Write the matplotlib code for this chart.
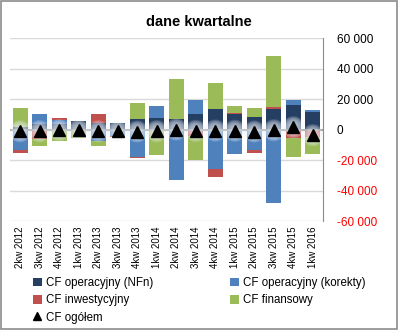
import matplotlib
matplotlib.use("Agg")
import matplotlib.pyplot as plt
import numpy as np

plt.rcParams["font.family"] = ["Liberation Sans", "DejaVu Sans"]

quarters = ["2kw 2012", "3kw 2012", "4kw 2012", "1kw 2013", "2kw 2013", "3kw 2013",
            "4kw 2013", "1kw 2014", "2kw 2014", "3kw 2014", "4kw 2014", "1kw 2015",
            "2kw 2015", "3kw 2015", "4kw 2015", "1kw 2016"]

cf_nfn = [1600, 3800, 3800, 5300, 4400, 4000, 6700, 7300, 6700, 10000, 13300, 10000,
          8000, 13300, 16000, 11300]
cf_korekty = [-13300, 6200, 2700, 0, -7300, -4000, -18000, 8000, -32900, 9300, -25600,
              -16200, -13300, -48400, 3300, 1300]
cf_inwest = [-2000, -6000, 900, 0, 5600, -1000, -700, 0, 0, -4000, -5300, 700,
             -2000, 1300, -5800, -4700]
cf_finans = [12500, -5100, -7800, -5700, -3800, 0, 10700, -16400, 26200, -16200, 16900,
             4700, 6000, 33300, -12000, -11600]
cf_total = [-1200, -1100, -400, -400, -1100, -1000, -1300, -1100, 0, -900, -700, -800,
            -1300, -500, 1500, -3700]

names = ["CF operacyjny (NFn)", "CF operacyjny (korekty)", "CF inwestycyjny", "CF finansowy"]
colors = ["#253f62", "#4f81bd", "#c0504d", "#9bbb59"]
series = [cf_nfn, cf_korekty, cf_inwest, cf_finans]

fig = plt.figure(figsize=(3.98, 3.30), dpi=100)
ax = fig.add_axes([0.0258, 0.330, 0.785, 0.5548])

x = np.arange(len(quarters))
pos_base = np.zeros(len(quarters))
neg_base = np.zeros(len(quarters))
handles = []
for vals, name, col in zip(series, names, colors):
    v = np.asarray(vals, dtype=float)
    bottom = np.where(v >= 0, pos_base, neg_base)
    h = ax.bar(x, v, 0.77, bottom=bottom, color=col, label=name, zorder=2)
    handles.append(h)
    pos_base += np.where(v >= 0, v, 0)
    neg_base += np.where(v < 0, v, 0)

# soft glow behind the markers
for s in np.linspace(260, 50, 8):
    ax.scatter(x, cf_total, s=s, color="#f2f6fc", alpha=0.13, edgecolors="none", zorder=3)
tri, = ax.plot(x, cf_total, linestyle="none", marker="^", markersize=8.5, color="black",
               label="CF ogółem", zorder=4)

ax.axhline(0, color="#8c8c8c", linewidth=1.2, zorder=2.5)
ax.set_xlim(-0.5, len(quarters) - 0.5)
ax.set_ylim(-60000, 60000)
ticks = list(range(-60000, 60001, 20000))
ax.set_yticks(ticks)
ax.yaxis.tick_right()
ax.set_yticklabels([f"{t:,}".replace(",", " ") for t in ticks], fontsize=8.5)
for lbl, t in zip(ax.get_yticklabels(), ticks):
    lbl.set_color("red" if t < 0 else "black")
ax.grid(axis="y", color="#d9d9d9", linewidth=1, zorder=0)
ax.set_axisbelow(True)

ax.set_xticks(x)
ax.set_xticklabels(quarters, rotation=90, fontsize=7)
ax.tick_params(axis="both", length=0)
ax.tick_params(axis="x", pad=4)
ax.tick_params(axis="y", pad=10)

for side in ["left", "top", "bottom"]:
    ax.spines[side].set_visible(False)
ax.spines["right"].set_color("#8c8c8c")

fig.text(0.5, 0.934, "dane kwartalne", ha="center", va="center", fontsize=10.5,
         fontweight="bold")

order = [handles[0], handles[2], tri, handles[1], handles[3]]
fig.legend(order, [h.get_label() for h in order], ncol=2, loc="upper left",
           bbox_to_anchor=(0.083, 0.16), frameon=False, fontsize=8.3,
           handlelength=0.75, handleheight=0.75, handletextpad=0.35, columnspacing=6.7,
           labelspacing=0.45, borderaxespad=0, borderpad=0, markerscale=0.75)

# chart border
fig.patches.append(plt.Rectangle((0.002, 0.002), 0.995, 0.995, transform=fig.transFigure,
                                 fill=False, edgecolor="#8c8c8c", linewidth=1.2))

fig.savefig("out.png", dpi=100)
